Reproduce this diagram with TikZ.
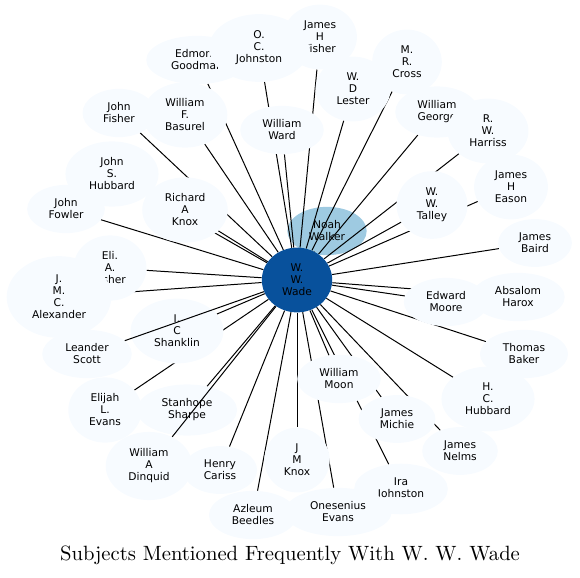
\documentclass[tikz,border=0pt]{standalone}
\usepackage{fontspec}
\newfontfamily\namefont{DejaVu Sans}
\newfontfamily\titlefont{lmroman10-regular}[Extension=.otf]
\usetikzlibrary{shapes.geometric}
\definecolor{palefill}{RGB}{247,251,255}
\definecolor{midblue}{RGB}{158,202,225}
\definecolor{darkblue}{RGB}{8,81,156}
\pgfdeclarelayer{back}
\pgfdeclarelayer{lines}
\pgfsetlayers{back,lines,main}

\begin{document}
\begin{tikzpicture}[x=0.75pt,y=-0.75pt]
  \tikzset{
    person/.style={ellipse,fill=palefill,inner xsep=7.5pt,inner ysep=5.2pt,align=center,
      font=\namefont\fontsize{8}{9}\selectfont},
    link/.style={black,line width=0.75pt},
  }
  %FRAME
  \useasboundingbox (0,0) rectangle (580,577);
  %NOAH WALKER (below the lines)
  \begin{pgfonlayer}{back}
    \node[person,fill=midblue] (walker) at (327,231) {Noah\\Walker};
  \end{pgfonlayer}
  %TOP NODES
  \node[person] (goodman) at (197,60) {Edmond\\Goodman};
  \node[person] (jhfisher) at (320,37) {James\\H\\Fisher};
  \node[person,minimum width=75pt] (ocjohnston) at (259,48) {O.\\C.\\Johnston};
  \node[person] (ward) at (282,130) {William\\Ward};
  \node[person] (lester) at (353,89) {W.\\D\\Lester};
  \node[person] (cross) at (407,62) {M.\\R.\\Cross};
  \node[person] (george) at (437,112) {William\\George};
  \node[person] (harriss) at (488,131) {R.\\W.\\Harriss};
  \node[person] (talley) at (432,205) {W.\\W.\\Talley};
  \node[person] (eason) at (511,187) {James\\H\\Eason};
  \node[person] (baird) at (535,243) {James\\Baird};
  %RIGHT NODES
  \node[person] (harox) at (518,297) {Absalom\\Harox};
  \node[person] (moore) at (446,302) {Edward\\Moore};
  \node[person] (baker) at (524,354) {Thomas\\Baker};
  \node[person] (hchubbard) at (488,399) {H.\\C.\\Hubbard};
  \node[person] (nelms) at (460,451) {James\\Nelms};
  %BOTTOM NODES
  \node[person] (michie) at (397,419) {James\\Michie};
  \node[person] (moon) at (339,379) {William\\Moon};
  \node[person] (ijohnston) at (401,489) {Ira\\Johnston};
  \node[person] (oevans) at (338,512) {Onesenius\\Evans};
  \node[person] (jmknox) at (297,460) {J\\M\\Knox};
  \node[person] (beedles) at (253,515) {Azleum\\Beedles};
  \node[person] (cariss) at (220,470) {Henry\\Cariss};
  \node[person] (dinquid) at (149,466) {William\\A\\Dinquid};
  \node[person] (sharpe) at (187,410) {Stanhope\\Sharpe};
  \node[person] (eevans) at (105,410) {Elijah\\L.\\Evans};
  %LEFT NODES
  \node[person] (scott) at (87,354) {Leander\\Scott};
  \node[person] (shanklin) at (177,331) {I.\\C\\Shanklin};
  \node[person] (efisher) at (110,268) {Eli.\\A.\\Fisher};
  \node[person] (alexander) at (59,297) {J.\\M.\\C.\\Alexander};
  \node[person] (fowler) at (66,209) {John\\Fowler};
  \node[person] (jshubbard) at (112,174) {John\\S.\\Hubbard};
  \node[person] (rknox) at (185,210) {Richard\\A\\Knox};
  \node[person] (jfisher) at (119,113) {John\\Fisher};
  \node[person] (basurel) at (185,115) {William\\F.\\Basurel};
  %CENTER
  \node[person,fill=darkblue] (wade) at (297,280) {W.\\W.\\Wade};
  %LINES
  \begin{pgfonlayer}{lines}
    \foreach \n in {walker,goodman,jhfisher,ocjohnston,ward,lester,cross,george,harriss,
      talley,eason,baird,harox,moore,baker,hchubbard,nelms,michie,moon,ijohnston,oevans,
      jmknox,beedles,cariss,sharpe,eevans,shanklin,efisher,alexander,fowler,jshubbard,
      rknox,jfisher,basurel}{
      \draw[link] (wade) -- (\n);
    }
  \end{pgfonlayer}
  %LINES ON TOP
  \foreach \n in {scott,dinquid}{
    \draw[link] (wade) -- (\n);
  }
  %TITLE
  \node[font=\titlefont\fontsize{15.5}{18}\selectfont,anchor=base] (title) at (290,560)
    {Subjects Mentioned Frequently With W. W. Wade};
\end{tikzpicture}
\end{document}
